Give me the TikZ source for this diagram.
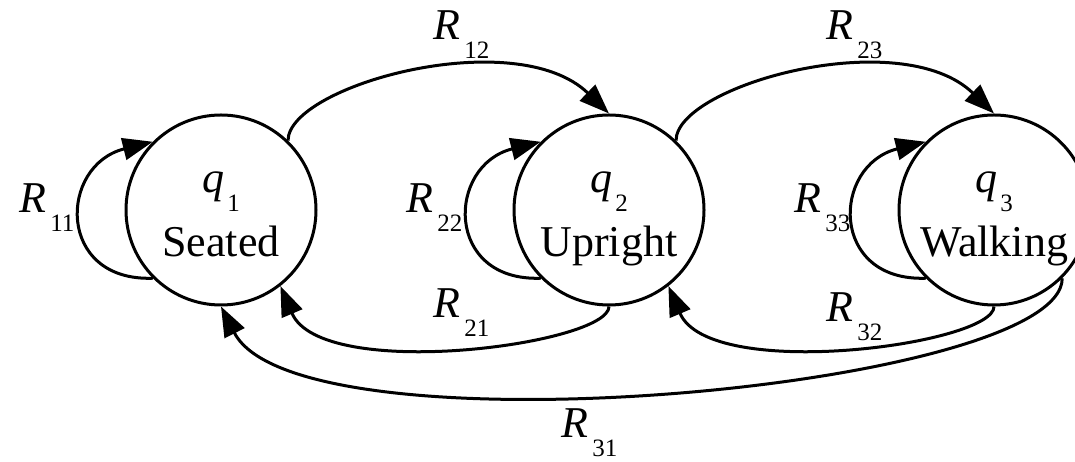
\documentclass[tikz,border=0pt]{standalone}
\usepackage{fontspec}
\setmainfont{Liberation Serif}
\usetikzlibrary{arrows.meta}

% symbol with a dropped index, as in the figure
\newcommand{\Rsub}[1]{\textit{R}\kern4pt\raisebox{-19pt}{\fontsize{25}{25}\selectfont #1}}
\newcommand{\qsub}[1]{\textit{q}\kern3pt\raisebox{-19pt}{\fontsize{25}{25}\selectfont #1}}

\begin{document}
\begin{tikzpicture}[x=1pt, y=1pt, line width=3pt,
    >={Triangle[length=30pt,width=22pt]},
    state/.style={circle, draw, minimum size=190pt, inner sep=0pt},
    txt/.style={anchor=base, inner sep=0pt, font=\fontsize{44}{44}\selectfont},
    rlab/.style={anchor=base west, inner sep=0pt, font=\fontsize{44}{44}\selectfont}]
  \useasboundingbox (0,0) rectangle (1075,462);
  \clip (0,0) rectangle (1075,462);

  % states
  \node[state] (q1) at (221,252) {};
  \node[state] (q2) at (609,252) {};
  \node[state] (q3) at (994,252) {};

  \node[txt] (q1sym) at (221,269) {\qsub{1}};
  \node[txt] (q1name) at (221,205) {Seated};
  \node[txt] (q2sym) at (609,269) {\qsub{2}};
  \node[txt] (q2name) at (609,205) {Upright};
  \node[txt] (q3sym) at (994,269) {\qsub{3}};
  \node[txt] (q3name) at (994,205) {Walking};

  % self loops
  \draw[->] (q1.225) to[out=182, in=194, out distance=97pt, in distance=97pt] (q1.135);
  \draw[->] (q2.225) to[out=182, in=194, out distance=97pt, in distance=97pt] (q2.135);
  \draw[->] (q3.225) to[out=182, in=194, out distance=97pt, in distance=97pt] (q3.135);

  % forward transitions
  \draw[->] (q1.46) to[out=90, in=136, out distance=55pt, in distance=130pt] (q2.90);
  \draw[->] (q2.46) to[out=90, in=136, out distance=55pt, in distance=130pt] (q3.90);

  % backward transitions
  \draw[->] (q2.270) to[out=270, in=293, out distance=38pt, in distance=105pt] (q1.-52);
  \draw[->] (q3.270) to[out=270, in=293, out distance=38pt, in distance=105pt] (q2.-52);
  \draw[->] (q3.-45) to[out=270, in=297, out distance=110pt, in distance=170pt] (q1.270);

  % rates
  \node[rlab] (r11) at (18,249) {\Rsub{11}};
  \node[rlab] (r12) at (432,422) {\Rsub{12}};
  \node[rlab] (r22) at (405,249) {\Rsub{22}};
  \node[rlab] (r21) at (432,144) {\Rsub{21}};
  \node[rlab] (r23) at (825,422) {\Rsub{23}};
  \node[rlab] (r33) at (793,249) {\Rsub{33}};
  \node[rlab] (r32) at (825,140) {\Rsub{32}};
  \node[rlab] (r31) at (560,24) {\Rsub{31}};
\end{tikzpicture}
\end{document}
